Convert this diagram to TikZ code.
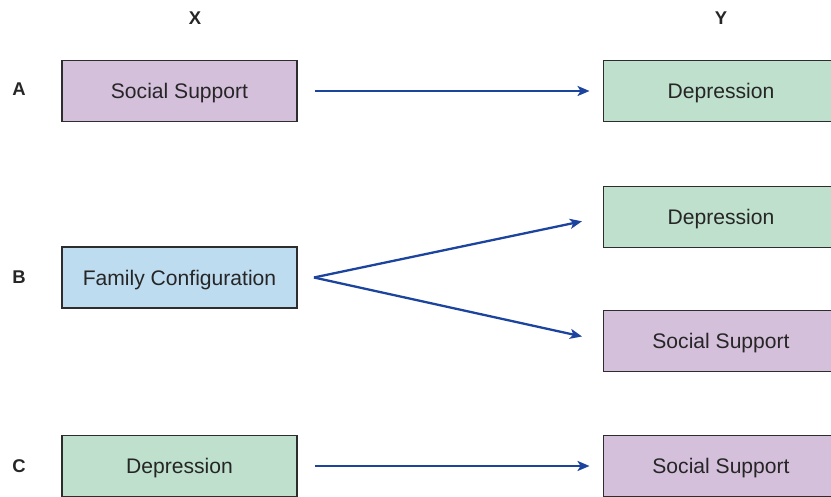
\documentclass[tikz,border=0pt]{standalone}
\usepackage{fontspec}
\setmainfont{Liberation Sans}
\usepackage{tikz}
\usetikzlibrary{arrows.meta,shapes,positioning}
\usepackage{xcolor}
\definecolor{vlilac}{RGB}{213,192,220}
\definecolor{vmint}{RGB}{190,224,205}
\definecolor{vsky}{RGB}{190,220,240}
\definecolor{vblue}{RGB}{28,68,158}
\definecolor{vedge}{RGB}{45,45,45}
\tikzstyle{varbox} = [rectangle, minimum width=4.7cm, minimum height=1.22cm, text centered, text height=8.6pt, text depth=0pt, draw=vedge, line width=1.1pt, text=black!85, font=\fontsize{12}{14}\selectfont]
\tikzstyle{tag} = [font=\fontsize{10.5}{12}\selectfont\bfseries, text=black!85]
\tikzstyle{arrow} = [line width=1.3pt,->,>={Stealth[length=2.4mm,width=2mm,inset=0.6mm]},color=vblue]

\begin{document}
\begin{tikzpicture}
\useasboundingbox (0,0) rectangle (16.62,-9.94);
% column and row tags
\node (colX) [tag] at (3.9,-0.36) {X};
\node (colY) [tag] at (14.42,-0.36) {Y};
\node (rowA) [tag] at (0.38,-1.79) {A};
\node (rowB) [tag] at (0.38,-5.55) {B};
\node (rowC) [tag] at (0.38,-9.32) {C};
% boxes
\node (supA) [varbox, fill=vlilac] at (3.59,-1.82) {Social Support};
\node (depA) [varbox, fill=vmint] at (14.42,-1.82) {Depression};
\node (famB) [varbox, fill=vsky] at (3.59,-5.55) {Family Configuration};
\node (depB) [varbox, fill=vmint] at (14.42,-4.34) {Depression};
\node (supB) [varbox, fill=vlilac] at (14.42,-6.82) {Social Support};
\node (depC) [varbox, fill=vmint] at (3.59,-9.32) {Depression};
\node (supC) [varbox, fill=vlilac] at (14.42,-9.32) {Social Support};
\coordinate (fork) at ([xshift=0.32cm]famB.east);
% arrows
\draw[arrow, shorten <=0.34cm, shorten >=0.26cm] (supA) -- (depA);
\draw[arrow, shorten >=0.42cm] (fork) -- (depB.west);
\draw[arrow, shorten >=0.42cm] (fork) -- (supB.west);
\draw[arrow, shorten <=0.34cm, shorten >=0.26cm] (depC) -- (supC);
\end{tikzpicture}
\end{document}
